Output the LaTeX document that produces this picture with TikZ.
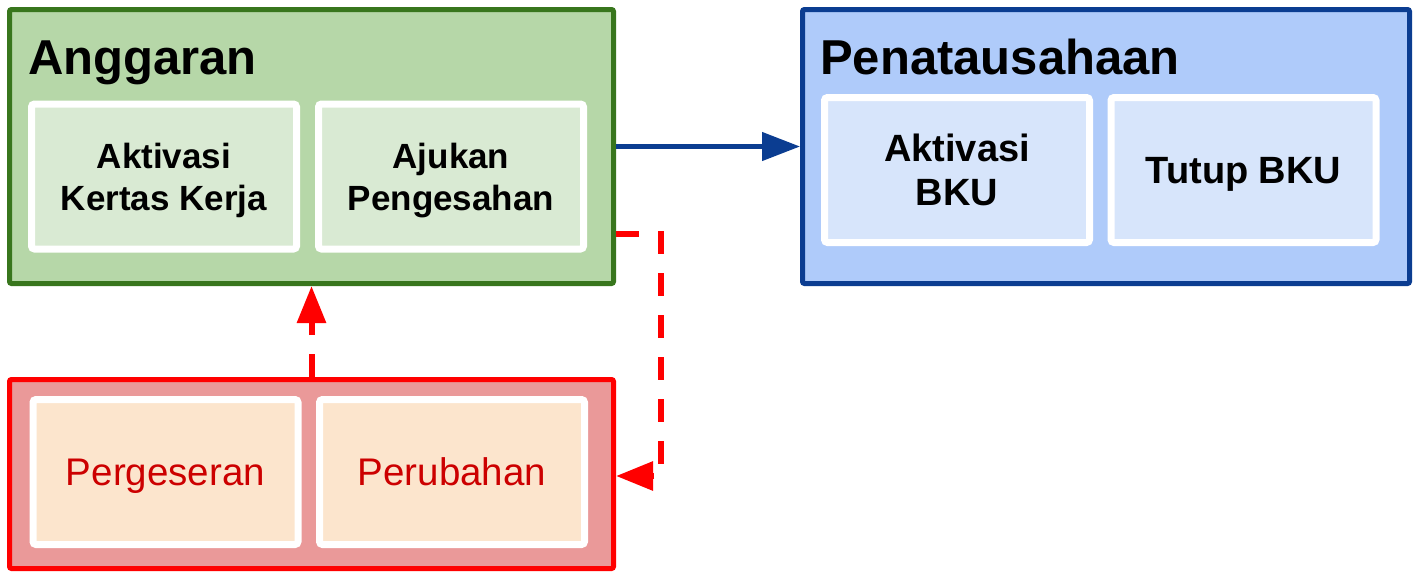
\documentclass[tikz,border=0pt]{standalone}
\usepackage{fontspec}
\setmainfont{Liberation Sans}
\usetikzlibrary{arrows.meta}

\definecolor{hijau}{HTML}{38761D}
\definecolor{hijaumuda}{HTML}{B6D7A8}
\definecolor{hijaupucat}{HTML}{D9EAD3}
\definecolor{biru}{HTML}{0B3D91}
\definecolor{birumuda}{HTML}{AFCBFA}
\definecolor{birupucat}{HTML}{D7E5FB}
\definecolor{merah}{HTML}{FF0000}
\definecolor{merahmuda}{HTML}{EA9999}
\definecolor{krem}{HTML}{FCE5CD}
\definecolor{teksmerah}{HTML}{CC0000}

\begin{document}
\begin{tikzpicture}[x=1pt,y=-1pt,
  group/.style={draw, line width=5pt, rounded corners=2pt},
  title/.style={anchor=base west, inner sep=0pt, font=\fontsize{49}{58}\selectfont\bfseries},
  task/.style={draw=white, line width=7pt, rounded corners=3pt, minimum width=265pt,
    minimum height=145pt, align=center, text depth=0pt},
  flow/.style={draw=biru, line width=4.5pt, -{Triangle[length=38pt,width=28pt]}},
  revisi/.style={draw=merah, line width=6pt, dash pattern=on 23pt off 19pt,
    -{Triangle[length=37pt,width=28pt]}}]
\useasboundingbox (0,0) rectangle (1414,571);

% Anggaran
\node[group, draw=hijau, fill=hijaumuda, minimum width=604pt, minimum height=274pt] (anggaran) at (311.5,146.5) {};
\node[title] (tanggaran) at (28,74) {Anggaran};
\node[task, fill=hijaupucat, font=\fontsize{35}{42}\selectfont\bfseries] (kertas) at (164,176.5) {Aktivasi\\Kertas Kerja};
\node[task, fill=hijaupucat, font=\fontsize{35}{42}\selectfont\bfseries] (ajukan) at (451,176.5) {Ajukan\\Pengesahan};

% Penatausahaan
\node[group, draw=biru, fill=birumuda, minimum width=607pt, minimum height=274pt] (penata) at (1106,146.5) {};
\node[title] (tpenata) at (820,74) {Penatausahaan};
\node[task, fill=birupucat, font=\fontsize{38}{44}\selectfont\bfseries] (bku) at (957,170) {Aktivasi\\BKU};
\node[task, fill=birupucat, font=\fontsize{38}{44}\selectfont\bfseries] (tutup) at (1243.5,170) {Tutup BKU};

% pergeseran / perubahan
\node[group, draw=merah, fill=merahmuda, minimum width=604pt, minimum height=189pt] (ubah) at (311.5,474) {};
\node[task, fill=krem, text=teksmerah, font=\fontsize{38.5}{46}\selectfont, text height=27pt] (geser) at (165.5,472) {Pergeseran};
\node[task, fill=krem, text=teksmerah, font=\fontsize{38.5}{46}\selectfont, text height=27pt] (rubah) at (452,472) {Perubahan};

\draw[flow] (anggaran.east |- penata.west) -- (penata.west);
\draw[revisi] ([yshift=-87.5pt]anggaran.east) -| ([xshift=45pt,yshift=-2pt]ubah.east) -- ([yshift=-2pt]ubah.east);
\draw[revisi] (ubah.north) -- (anggaran.south);
\end{tikzpicture}
\end{document}
